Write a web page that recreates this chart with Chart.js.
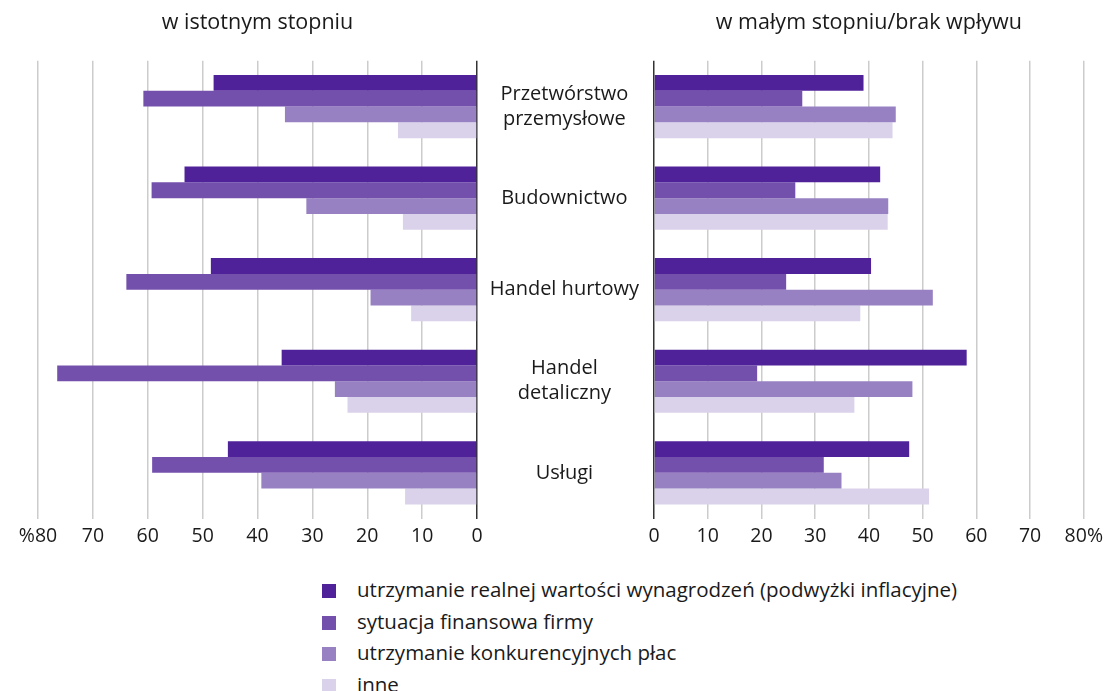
<!DOCTYPE html>
<html>
<head>
<meta charset="utf-8">
<script src="https://cdn.jsdelivr.net/npm/chart.js@4/dist/chart.umd.min.js"></script>
<style>
    html, body { margin: 0; padding: 0; background: #fff; overflow: hidden; }
    #wrap { position: relative; width: 1105px; height: 691px; overflow: hidden; font-family: "Open Sans", sans-serif; color: #1a1a1a; }
    #left-box { position: absolute; left: 0; top: 0; width: 490px; height: 566px; }
    #right-box { position: absolute; left: 476px; top: 0; width: 633px; height: 566px; }
    #legend { position: absolute; left: 322px; top: 574px; margin: 0; padding: 0; list-style: none; }
    #legend li { height: 31.5px; line-height: 31.5px; font-size: 20.5px; white-space: nowrap; }
    #legend span { display: inline-block; width: 14px; height: 14px; margin-right: 21px; vertical-align: -1px; }
</style>
</head>
<body>
<div id="wrap">
    <div id="left-box"><canvas id="left-chart"></canvas></div>
    <div id="right-box"><canvas id="right-chart"></canvas></div>
    <ul id="legend"></ul>
</div>
<script>
var categorias = [['Przetwórstwo', 'przemysłowe'], 'Budownictwo', 'Handel hurtowy', ['Handel', 'detaliczny'], 'Usługi'];
var serie = ['utrzymanie realnej wartości wynagrodzeń (podwyżki inflacyjne)', 'sytuacja finansowa firmy', 'utrzymanie konkurencyjnych płac', 'inne'];
var cores = ['#50229a', '#7450ad', '#9781c3', '#dad2ea'];
var tickValores = [0, 10, 20, 30, 40, 50, 60, 70, 80];

// w istotnym stopniu (%)
var istotnyRealna = [48, 53.3, 48.5, 35.6, 45.4];
var istotnyFinansowa = [60.8, 59.3, 63.9, 76.5, 59.2];
var istotnyKonkur = [35, 31.1, 19.4, 25.9, 39.3];
var istotnyInne = [14.4, 13.5, 12, 23.6, 13.1];

// w małym stopniu / brak wpływu (%)
var malymRealna = [39, 42.1, 40.4, 58.2, 47.5];
var malymFinansowa = [27.6, 26.3, 24.6, 19.2, 31.6];
var malymKonkur = [45, 43.6, 51.9, 48.1, 34.9];
var malymInne = [44.4, 43.5, 38.4, 37.3, 51.2];

Chart.defaults.font.family = '"Open Sans", sans-serif';
Chart.defaults.color = '#1a1a1a';
Chart.defaults.animation = false;

function datasets(valores) {
    var ds = [];
    for (var i = 0; i < valores.length; i++) {
        ds.push({
            label: serie[i],
            data: valores[i],
            backgroundColor: cores[i],
            borderWidth: 0,
            barPercentage: 1,
            categoryPercentage: 0.69
        });
    }
    return ds;
}

function eixoX(reverso, sufixo) {
    return {
        type: 'linear',
        min: 0,
        max: 80,
        reverse: reverso,
        afterBuildTicks: function (axis) {
            axis.ticks = tickValores.map(function (v) { return { value: v }; });
        },
        grid: {
            drawTicks: false,
            lineWidth: 1.5,
            color: function (ctx) { return ctx.tick && ctx.tick.value === 0 ? '#333333' : '#cccccc'; }
        },
        border: { display: false },
        ticks: {
            padding: 6,
            font: { size: 19.5 },
            callback: function (v) {
                if (v === 80) return sufixo ? '80%' : '%80';
                return v;
            }
        }
    };
}

function titulo(texto) {
    return {
        display: true,
        text: texto,
        fullSize: false,
        color: '#1a1a1a',
        font: { size: 21.5, weight: 'normal' },
        padding: { top: 10, bottom: 25 }
    };
}

new Chart(document.getElementById('left-chart').getContext('2d'), {
    type: 'bar',
    data: {
        labels: categorias,
        datasets: datasets([istotnyRealna, istotnyFinansowa, istotnyKonkur, istotnyInne])
    },
    options: {
        indexAxis: 'y',
        responsive: true,
        maintainAspectRatio: false,
        layout: { padding: { left: 38, right: 13, top: 0, bottom: 12 } },
        scales: {
            x: eixoX(true, false),
            y: { display: false }
        },
        plugins: {
            legend: { display: false },
            tooltip: { enabled: false },
            title: titulo('w istotnym stopniu')
        }
    }
});

var direito = new Chart(document.getElementById('right-chart').getContext('2d'), {
    type: 'bar',
    data: {
        labels: categorias,
        datasets: datasets([malymRealna, malymFinansowa, malymKonkur, malymInne])
    },
    options: {
        indexAxis: 'y',
        responsive: true,
        maintainAspectRatio: false,
        layout: { padding: { left: 0, right: 0, top: 0, bottom: 12 } },
        scales: {
            x: eixoX(false, true),
            y: {
                position: 'left',
                grid: { display: false },
                border: { display: false },
                afterFit: function (scale) { scale.width = 178; },
                ticks: {
                    crossAlign: 'center',
                    padding: 7,
                    font: { size: 20, lineHeight: 1.25 }
                }
            }
        },
        plugins: {
            legend: { display: false },
            tooltip: { enabled: false },
            title: titulo('w małym stopniu/brak wpływu')
        }
    }
});

// legenda em html, montada a partir dos datasets
var ul = document.getElementById('legend');
direito.data.datasets.forEach(function (d) {
    var li = document.createElement('li');
    var sw = document.createElement('span');
    sw.style.background = d.backgroundColor;
    li.appendChild(sw);
    li.appendChild(document.createTextNode(d.label));
    ul.appendChild(li);
});
</script>
</body>
</html>
